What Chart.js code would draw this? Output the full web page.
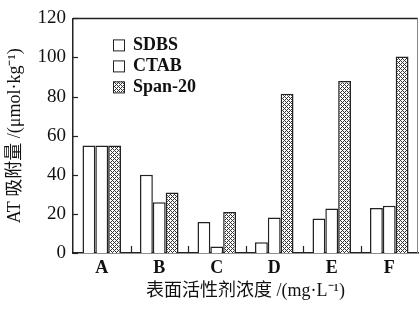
<!DOCTYPE html>
<html>
<head>
<meta charset="utf-8">
<script src="https://cdn.jsdelivr.net/npm/chart.js@4/dist/chart.umd.min.js"></script>
<style>
  html, body { margin: 0; padding: 0; background: #fff; }
  #wrap { width: 420px; height: 309px; }
</style>
</head>
<body>
<div id="wrap"><canvas id="atChart" width="420" height="309"></canvas></div>
<script>
// data
var categories = ['A', 'B', 'C', 'D', 'E', 'F'];
var sdbs = [55, 40, 15.8, 5.5, 17.6, 23];
var ctab = [55, 26, 3.3, 18.2, 22.7, 24.2];
var span20 = [55, 31, 21, 81.5, 88, 100.5];
var yTicks = [0, 20, 40, 60, 80, 100, 120];

var FONT = "'Liberation Serif', 'Noto Sans CJK SC', serif";

// crosshatch fill for Span-20
function makeHatch() {
    var c = document.createElement('canvas');
    c.width = 4; c.height = 4;
    var g = c.getContext('2d');
    g.fillStyle = '#fff';
    g.fillRect(0, 0, 4, 4);
    g.fillStyle = '#333';
    for (var x = 0; x < 4; x++) {
        for (var y = 0; y < 4; y++) {
            if ((x + y) % 4 === 0 || ((x - y) + 4) % 4 === 0) g.fillRect(x, y, 1, 1);
        }
    }
    return g.createPattern(c, 'repeat');
}
var hatch = makeHatch();

// frame, inner ticks and legend
var extras = {
    id: 'extras',
    afterDraw: function (chart) {
        var ctx = chart.ctx;
        var a = chart.chartArea;
        var xs = chart.scales.x, ys = chart.scales.y;
        ctx.save();
        // top and right frame
        ctx.strokeStyle = '#222';
        ctx.lineWidth = 1.5;
        ctx.beginPath();
        ctx.moveTo(a.left, a.top);
        ctx.lineTo(a.right, a.top);
        ctx.stroke();
        ctx.strokeStyle = '#888';
        ctx.lineWidth = 1;
        ctx.beginPath();
        ctx.moveTo(a.right - 0.5, a.top);
        ctx.lineTo(a.right - 0.5, a.bottom);
        ctx.stroke();
        // y ticks pointing in
        ctx.strokeStyle = '#222';
        ctx.lineWidth = 1.2;
        yTicks.forEach(function (v) {
            var py = Math.round(ys.getPixelForValue(v)) + 0.5;
            ctx.beginPath();
            ctx.moveTo(a.left, py);
            ctx.lineTo(a.left + 5, py);
            ctx.stroke();
        });
        // x ticks between groups
        for (var i = 0; i < categories.length - 1; i++) {
            var px = Math.round(xs.getPixelForValue(i + 0.5)) + 0.5;
            ctx.beginPath();
            ctx.moveTo(px, a.bottom);
            ctx.lineTo(px, a.bottom - 7);
            ctx.stroke();
        }
        // legend
        ctx.font = 'bold 18px ' + FONT;
        ctx.textBaseline = 'middle';
        ctx.textAlign = 'left';
        chart.data.datasets.forEach(function (ds, k) {
            var bx = a.left + 40, by = a.top + 21 + k * 21;
            ctx.fillStyle = ds.backgroundColor;
            ctx.fillRect(bx, by, 11, 11);
            ctx.strokeStyle = '#222';
            ctx.lineWidth = 1;
            ctx.strokeRect(bx + 0.5, by + 0.5, 11, 11);
            ctx.fillStyle = '#111';
            ctx.fillText(ds.label, bx + 20, by + 6);
        });
        ctx.restore();
    }
};

var ctx = document.getElementById('atChart').getContext('2d');

new Chart(ctx, {
    type: 'bar',
    data: {
        labels: categories,
        datasets: [
            { label: 'SDBS', data: sdbs, backgroundColor: '#fff' },
            { label: 'CTAB', data: ctab, backgroundColor: '#fff' },
            { label: 'Span-20', data: span20, backgroundColor: hatch }
        ]
    },
    options: {
        responsive: false,
        animation: false,
        layout: { padding: { top: 12, right: 2, left: 0, bottom: 0 } },
        datasets: {
            bar: {
                borderColor: '#222',
                borderWidth: 1.5,
                categoryPercentage: 0.67,
                barPercentage: 1
            }
        },
        plugins: {
            legend: { display: false },
            tooltip: { enabled: false }
        },
        scales: {
            x: {
                grid: { display: false, drawTicks: false },
                border: { color: '#222', width: 1.5 },
                ticks: { color: '#111', padding: 5, font: { family: FONT, size: 18, weight: 'bold' } },
                title: {
                    display: true,
                    text: '表面活性剂浓度 /(mg·L⁻¹)',
                    color: '#111',
                    padding: { top: 0, bottom: 7 },
                    font: { family: FONT, size: 18 }
                },
                afterFit: function (s) { s.height = 56; }
            },
            y: {
                min: 0,
                max: 120,
                afterBuildTicks: function (s) {
                    s.ticks = yTicks.map(function (v) { return { value: v }; });
                },
                grid: { display: false, drawTicks: false },
                border: { color: '#222', width: 1.5 },
                ticks: { color: '#111', padding: 7, font: { family: FONT, size: 19 } },
                title: {
                    display: true,
                    text: 'AT 吸附量 /(μmol·kg⁻¹)',
                    color: '#111',
                    padding: { top: 4, bottom: 0 },
                    font: { family: FONT, size: 18 }
                },
                afterFit: function (s) { s.width = 73; }
            }
        }
    },
    plugins: [extras]
});
</script>
</body>
</html>
